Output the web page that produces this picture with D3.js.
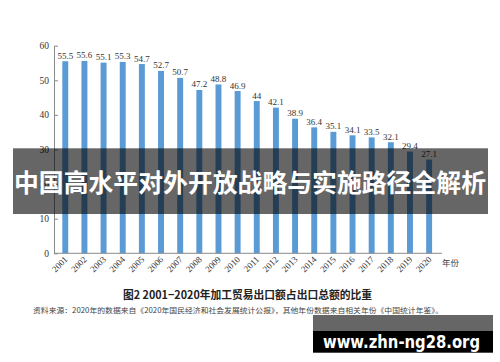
<!DOCTYPE html>
<html>
<head>
<meta charset="utf-8">
<script src="https://cdn.jsdelivr.net/npm/d3@7"></script>
<style>
  body { margin: 0; background: #fff; }
  svg { display: block; }
</style>
</head>
<body>
<script>
var years = ["2001","2002","2003","2004","2005","2006","2007","2008","2009","2010",
             "2011","2012","2013","2014","2015","2016","2017","2018","2019","2020"];
var shares = [55.5, 55.6, 55.1, 55.3, 54.7, 52.7, 50.7, 47.2, 48.8, 46.9,
              44, 42.1, 38.9, 36.4, 35.1, 34.1, 33.5, 32.1, 29.4, 27.1];
var yTicks = [0, 10, 20, 30, 40, 50, 60];

var titleText = "图2  2001−2020年加工贸易出口额占出口总额的比重";
var sourceText = "资料来源：2020年的数据来自《2020年国民经济和社会发展统计公报》，其他年份数据来自相关年份《中国统计年鉴》。";
var bannerText = "中国高水平对外开放战略与实施路径全解析";
var markText = "www.zhn-ng28.org";

var width = 500, height = 362;
var serif = "'Liberation Serif', 'Times New Roman', serif";
var cjk = "'Noto Sans CJK SC', 'Noto Sans', sans-serif";

var svg = d3.select("body").append("svg")
  .attr("width", width)
  .attr("height", height);

var x = d3.scaleBand()
  .domain(years)
  .range([55.7, 438.7])
  .paddingInner(0.69)
  .paddingOuter(0.345);

var y = d3.scaleLinear()
  .domain([0, 60])
  .range([253.3, 45.7]);

// y axis
var yAxis = svg.append("g")
  .attr("transform", "translate(54,0)")
  .call(d3.axisLeft(y).tickValues(yTicks).tickSize(0).tickPadding(5));
yAxis.select(".domain").attr("stroke", "#8a8a8a");
yAxis.selectAll("text")
  .attr("font-family", serif)
  .attr("font-size", 9.5)
  .attr("fill", "#333");
yAxis.selectAll(".tick").append("line")
  .attr("x1", 0).attr("x2", 4)
  .attr("stroke", "#8a8a8a");

// bars
svg.selectAll("rect.bar")
  .data(shares)
  .enter()
  .append("rect")
  .attr("class", "bar")
  .attr("x", (d, i) => x(years[i]))
  .attr("width", x.bandwidth())
  .attr("y", d => y(d))
  .attr("height", d => y(0) - y(d))
  .attr("fill", "#5b9bd5");

// value labels
svg.selectAll("text.val")
  .data(shares)
  .enter()
  .append("text")
  .attr("class", "val")
  .attr("x", (d, i) => x(years[i]) + x.bandwidth() / 2)
  .attr("y", d => y(d) - 2.5)
  .attr("text-anchor", "middle")
  .attr("font-family", serif)
  .attr("font-size", 9)
  .attr("fill", "#333")
  .text(d => d);

// x axis
svg.append("line")
  .attr("x1", 54).attr("x2", 442)
  .attr("y1", y(0)).attr("y2", y(0))
  .attr("stroke", "#8a8a8a");

svg.selectAll("text.year")
  .data(years)
  .enter()
  .append("text")
  .attr("class", "year")
  .attr("transform", d => "translate(" + (x(d) + x.bandwidth() / 2 + 3) + "," + 260 + ") rotate(-45)")
  .attr("text-anchor", "end")
  .attr("font-family", serif)
  .attr("font-size", 9)
  .attr("fill", "#333")
  .text(d => d);

svg.append("text")
  .attr("x", 442).attr("y", 266)
  .attr("font-family", cjk)
  .attr("font-size", 8.5)
  .attr("fill", "#444")
  .text("年份");

// title and source
svg.append("text")
  .attr("x", 123).attr("y", 299)
  .attr("textLength", 249)
  .attr("lengthAdjust", "spacingAndGlyphs")
  .attr("font-family", cjk)
  .attr("font-weight", "bold")
  .attr("font-size", 11)
  .attr("fill", "#222")
  .text(titleText);

svg.append("text")
  .attr("x", 33).attr("y", 313)
  .attr("textLength", 410)
  .attr("lengthAdjust", "spacingAndGlyphs")
  .attr("font-family", cjk)
  .attr("font-size", 7.4)
  .attr("fill", "#444")
  .text(sourceText);

// banner overlay
svg.append("rect")
  .attr("x", 13).attr("y", 148.3)
  .attr("width", 475).attr("height", 65.7)
  .attr("fill", "rgba(0,0,0,0.6)");

svg.append("text")
  .attr("x", 14).attr("y", 192)
  .attr("textLength", 472)
  .attr("lengthAdjust", "spacingAndGlyphs")
  .attr("font-family", cjk)
  .attr("font-weight", "bold")
  .attr("font-size", 25)
  .attr("fill", "#fff")
  .text(bannerText);

// watermark
svg.append("rect")
  .attr("x", 313).attr("y", 315)
  .attr("width", 180).attr("height", 15.7)
  .attr("fill", "#666");
svg.append("rect")
  .attr("x", 313).attr("y", 330.7)
  .attr("width", 180).attr("height", 22)
  .attr("fill", "#000");
svg.append("text")
  .attr("x", 323).attr("y", 348)
  .attr("textLength", 157)
  .attr("lengthAdjust", "spacingAndGlyphs")
  .attr("font-family", "'DejaVu Sans', sans-serif")
  .attr("font-weight", "bold")
  .attr("font-size", 17)
  .attr("fill", "#fff")
  .text(markText);
</script>
</body>
</html>
